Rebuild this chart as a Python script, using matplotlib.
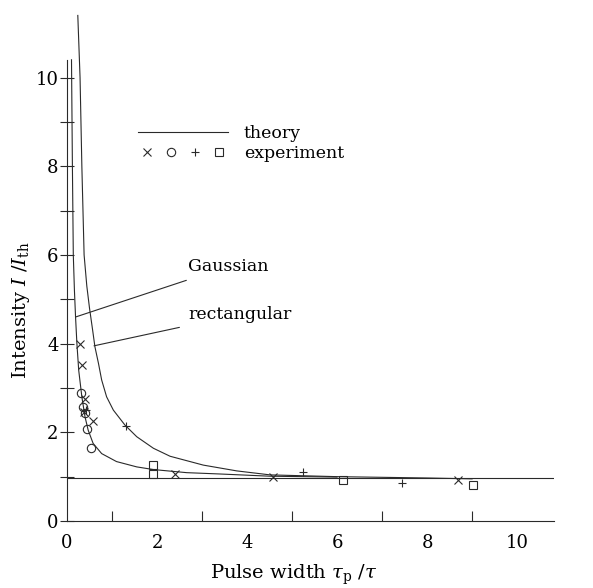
import matplotlib
matplotlib.use('Agg')
import matplotlib.pyplot as plt
from matplotlib.lines import Line2D
from matplotlib.legend_handler import HandlerTuple

plt.rcParams['font.family'] = ['DejaVu Serif']
plt.rcParams['mathtext.fontset'] = 'dejavuserif'

# theory curves
gauss_x = [0.10, 0.12, 0.14, 0.165, 0.19, 0.22, 0.26, 0.33, 0.40, 0.47, 0.58, 0.77,
           1.10, 1.55, 1.92, 2.66, 3.40, 4.51, 6.00]
gauss_y = [10.4, 8.0, 6.0, 5.2, 4.6, 4.0, 3.4, 2.80, 2.35, 2.05, 1.75, 1.52,
           1.34, 1.22, 1.16, 1.09, 1.06, 1.01, 0.99]
rect_x = [0.24, 0.29, 0.33, 0.38, 0.44, 0.50, 0.57, 0.62, 0.70, 0.77, 0.88, 1.03, 1.29,
          1.55, 1.92, 2.29, 3.03, 3.77, 4.51, 6.0, 8.0, 9.0]
rect_y = [11.4, 10.0, 8.0, 6.0, 5.3, 4.8, 4.30, 3.93, 3.55, 3.18, 2.80, 2.50, 2.16,
          1.90, 1.64, 1.46, 1.26, 1.13, 1.04, 1.0, 0.97, 0.95]
threshold = 0.96

# experiment points
cross_x = [0.29, 0.33, 0.40, 0.38, 0.58, 2.40, 4.58, 8.69]
cross_y = [4.00, 3.51, 2.76, 2.45, 2.26, 1.06, 0.99, 0.92]
circ_x = [0.31, 0.36, 0.40, 0.44, 0.53]
circ_y = [2.89, 2.57, 2.43, 2.07, 1.64]
plus_x = [0.43, 1.31, 5.24, 7.45]
plus_y = [2.50, 2.15, 1.10, 0.86]
sq_x = [1.92, 1.92, 6.13, 9.02]
sq_y = [1.26, 1.06, 0.92, 0.81]

col = '#2a2a2a'

fig = plt.figure(figsize=(5.93, 5.88), dpi=100)
ax = fig.add_axes([67/593, 67/588, 487/593, 510/588])

ax.plot(gauss_x, gauss_y, color=col, lw=0.8)
ax.plot(rect_x, rect_y, color=col, lw=0.8)
ax.axhline(threshold, color=col, lw=0.8)

mk = dict(color=col, ls='none', mew=0.8, mfc='none', ms=6)
ax.plot(cross_x, cross_y, marker='x', **mk)
ax.plot(circ_x, circ_y, marker='o', **mk)
ax.plot(plus_x, plus_y, marker='+', **mk)
ax.plot(sq_x, sq_y, marker='s', **mk)

ax.set_xlim(0, 10.82)
ax.set_ylim(0, 11.5)
for s in ['top', 'right']:
    ax.spines[s].set_visible(False)
ax.spines['left'].set_bounds(0, 10.4)
for s in ['left', 'bottom']:
    ax.spines[s].set_color(col)
    ax.spines[s].set_linewidth(0.8)

ax.set_xticks(range(0, 11, 2))
ax.set_xticks(range(1, 11), minor=True)
ax.set_yticks(range(0, 11, 2))
ax.set_yticks(range(1, 11, 2), minor=True)
ax.tick_params(axis='x', which='both', direction='in', length=7, width=0.8,
               color=col, labelsize=13, pad=9)
ax.tick_params(axis='x', which='major', length=0)
ax.tick_params(axis='y', which='both', direction='inout', length=10, width=0.8,
               color=col, labelsize=13, pad=1)

ax.set_xlabel(r'Pulse width $\tau_{\rm p}\ /\tau$', fontsize=14)
ax.set_ylabel(r'Intensity $I\ /I_{\rm th}$', fontsize=14)
ax.xaxis.set_label_coords(0.466, -0.082)
ax.yaxis.set_label_coords(-0.072, 0.414)

arrow = dict(arrowstyle='-', lw=0.8, color=col, shrinkA=6, shrinkB=0)
ax.annotate('Gaussian', xy=(0.19, 4.6), xytext=(2.69, 5.74), fontsize=12.5,
            va='center', arrowprops=arrow)
ax.annotate('rectangular', xy=(0.6, 3.95), xytext=(2.69, 4.66), fontsize=12.5,
            va='center', arrowprops=arrow)

h_theory = Line2D([], [], color=col, lw=0.8)
h_exp = tuple(Line2D([], [], marker=m, **mk) for m in ['x', 'o', '+', 's'])
ax.legend([h_theory, h_exp], ['theory', 'experiment'],
          handler_map={tuple: HandlerTuple(ndivide=None, pad=0.3)},
          loc='upper left', bbox_to_anchor=(138/593, 1 - 125/588),
          bbox_transform=fig.transFigure, frameon=False, fontsize=12.5,
          handlelength=5.2, handletextpad=0.9, labelspacing=0.15,
          borderpad=0, borderaxespad=0)

fig.savefig('out.png', dpi=100)
